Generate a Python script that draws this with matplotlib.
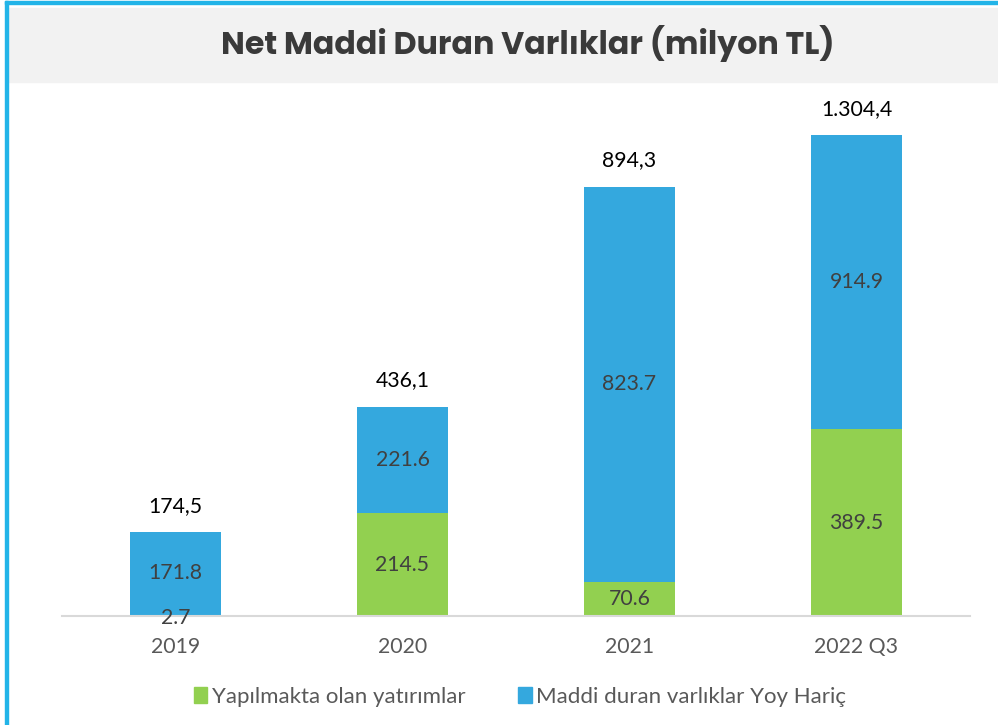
import matplotlib
matplotlib.use("Agg")
import matplotlib.pyplot as plt
from matplotlib.patches import Rectangle, Patch

# data
categories = ["2019", "2020", "2021", "2022 Q3"]
# bar heights as drawn (2022 blue segment is drawn shorter than its label says)
yapilmakta = [2.7, 214.5, 70.6, 389.5]
maddi = [171.8, 221.6, 823.7, 612.0]
yapilmakta_labels = ["2.7", "214.5", "70.6", "389.5"]
maddi_labels = ["171.8", "221.6", "823.7", "914.9"]
total_labels = ["174,5", "436,1", "894,3", "1.304,4"]
series_names = ["Yapılmakta olan yatırımlar", "Maddi duran varlıklar Yoy Hariç"]

green = "#92D050"
blue = "#34A8DE"
border = "#22B4E8"
dark = "#404040"

plt.rcParams["font.family"] = ["Lato", "DejaVu Sans"]

W, H = 998, 725
fig = plt.figure(figsize=(W / 100, H / 100), dpi=100)

# frame and title banner
fig.patches.append(Rectangle((8 / W, 1 - 82 / H), 1 - 8 / W, 74 / H,
                             transform=fig.transFigure, color="#F2F2F2", zorder=0))
fig.patches.append(Rectangle((5 / W, 0), 2.5 / W, 1 - 1 / H,
                             transform=fig.transFigure, color=border, zorder=1))
fig.patches.append(Rectangle((5 / W, 1 - 3.5 / H), 1 - 5 / W, 2.5 / H,
                             transform=fig.transFigure, color=border, zorder=1))
fig.text(528 / W, 1 - 43 / H, "Net Maddi Duran Varlıklar (milyon TL)",
         ha="center", va="center", fontsize=22.8, fontweight="bold",
         family=["Poppins", "Roboto", "DejaVu Sans"], color="#3A3A3A")

# axes: baseline at y=616px, 0.48 px per unit
ax = fig.add_axes([62 / W, 109 / H, 908 / W, 516 / H])
px_per_unit = 0.48
ax.set_ylim(0, 516 / px_per_unit)
ax.set_xlim(-0.5, len(categories) - 0.5)

x = range(len(categories))
ax.bar(x, yapilmakta, width=0.4, color=green, label=series_names[0])
ax.bar(x, maddi, width=0.4, bottom=yapilmakta, color=blue, label=series_names[1])

for i in x:
    ax.annotate(yapilmakta_labels[i], (i, yapilmakta[i] / 2), xytext=(0, -2 if i == 0 else 0),
                textcoords="offset points", ha="center", va="center",
                fontsize=15.3, color=dark, annotation_clip=False)
    ax.text(i, yapilmakta[i] + maddi[i] / 2, maddi_labels[i], ha="center", va="center",
            fontsize=15.3, color=dark)
    ax.annotate(total_labels[i], (i, yapilmakta[i] + maddi[i]), xytext=(0, 19),
                textcoords="offset points", ha="center", va="center",
                fontsize=15.3, color="black", annotation_clip=False)

ax.set_xticks(list(x))
ax.set_xticklabels(categories, fontsize=15.3, color="#595959")
ax.tick_params(axis="x", length=0, pad=15)
ax.set_yticks([])
for s in ["top", "right", "left"]:
    ax.spines[s].set_visible(False)
ax.spines["bottom"].set_color("#D9D9D9")
ax.spines["bottom"].set_linewidth(1.5)

handles = [Patch(color=green), Patch(color=blue)]
fig.legend(handles, series_names, loc="center", bbox_to_anchor=(520 / W, 1 - 697 / H),
           ncol=2, frameon=False, fontsize=16, handlelength=0.6, handleheight=0.75,
           handletextpad=0.2, columnspacing=2.4, labelcolor="#595959")

fig.savefig("out.png", dpi=100)
